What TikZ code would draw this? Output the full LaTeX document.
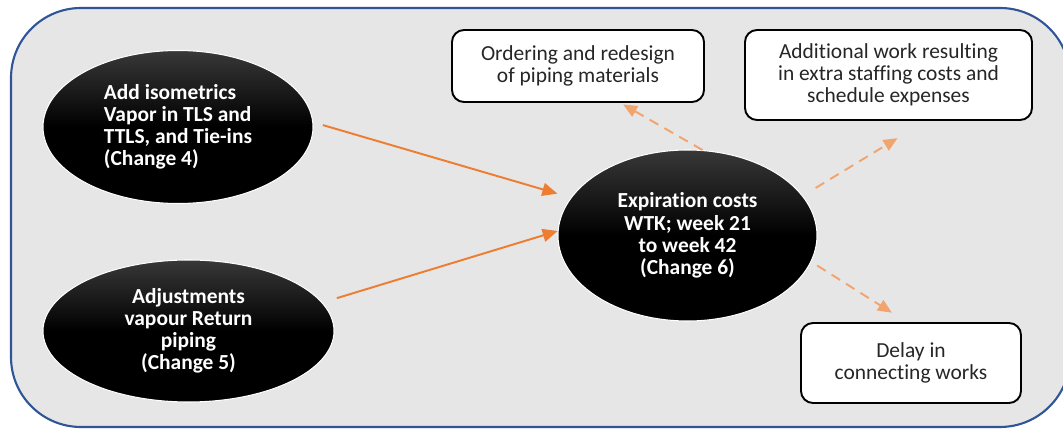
\documentclass[tikz,border=0pt]{standalone}
\usepackage{fontspec}
\setmainfont[Ligatures=NoCommon]{Carlito}
\usetikzlibrary{arrows.meta,shapes.geometric}
\definecolor{panelblue}{RGB}{47,85,151}
\definecolor{panelgray}{RGB}{231,230,230}
\definecolor{accorange}{RGB}{237,125,49}
\definecolor{lightorange}{RGB}{241,164,110}

\begin{document}
\begin{tikzpicture}[x=1cm,y=1cm,font=\fontsize{12.2}{12.6}\selectfont,
change/.style={ellipse,draw=white,line width=.6pt,top color=black!78,bottom color=black,middle color=black,text=white,font=\fontsize{12.2}{12.6}\selectfont\bfseries,align=center,inner sep=0pt},
effect/.style={draw=black,line width=1.1pt,rounded corners=.24cm,fill=white,text=black!85,align=center,inner sep=0pt},
cause/.style={-{Triangle[length=.3cm,width=.26cm]},line width=1.1pt,draw=accorange},
result/.style={-{Triangle[length=.28cm,width=.24cm]},line width=1.1pt,draw=lightorange,dash pattern=on .2cm off .14cm}]

\useasboundingbox(0,0)rectangle(21.26,8.6);
\clip(0,0)rectangle(21.26,8.6);
\draw[panelblue,line width=1.2pt,fill=panelgray,rounded corners=1.4cm](.22,.06)rectangle(21.4,8.44);

\node[change,align=left,minimum width=5.4cm,minimum height=3.06cm] (iso)at(3.56,6.06){Add isometrics\\Vapor in TLS and\\TTLS, and Tie-ins\\(Change 4)};
\node[change,minimum width=5.82cm,minimum height=2.84cm] (ret)at(3.77,1.98){Adjustments\\vapour Return\\piping\\(Change 5)};
\node[change,minimum width=5.18cm,minimum height=3.42cm] (exp)at(13.75,3.89){Expiration costs\\WTK; week 21\\to week 42\\(Change 6)};
\node[effect,minimum width=5.04cm,minimum height=1.44cm] (ord)at(11.56,7.28){Ordering and redesign\\of piping materials};
\node[effect,minimum width=5.74cm,minimum height=1.8cm] (add)at(17.77,7.10){Additional work resulting\\in extra staffing costs and\\schedule expenses};
\node[effect,minimum width=4.4cm,minimum height=1.6cm] (del)at(18.22,1.34){Delay in\\connecting works};

\draw[cause,shorten <=.2cm,shorten >=.28cm](iso.2)--(exp.162);
\draw[cause,shorten <=.3cm](ret.12)--(exp.178);
\draw[result,shorten >=.06cm](exp.80)--(ord.-41);
\draw[result,shorten <=.3cm,shorten >=.66cm](exp.19)--(add.-51);
\draw[result,shorten <=.14cm,shorten >=.35cm](exp.-12)--(del.96);
\end{tikzpicture}
\end{document}
